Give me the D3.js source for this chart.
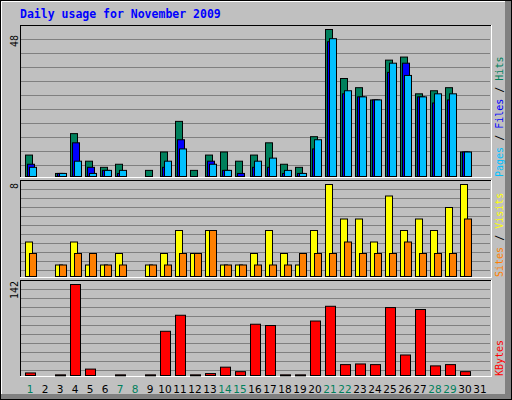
<!DOCTYPE html>
<html><head><meta charset="utf-8">
<script src="https://cdn.jsdelivr.net/npm/d3@7"></script>
<style>body{margin:0;background:#fff}svg{display:block}</style>
</head><body><svg width="512" height="400"></svg>
<script>
const days = d3.range(1,32);
const weekend = [1,7,8,14,15,21,22,28,29];
const hits  = [7,0,1,14,5,3,4,0,2,8,18,2,7,8,5,7,11,4,3,13,48,32,29,25,38,39,27,28,29,8,0];
const files = [4,0,1,11,3,2,1,0,0,3,12,0,5,2,1,3,3,1,1,9,44,27,26,25,34,37,26,24,25,8,0];
const pages = [3,0,1,5,1,2,2,0,0,5,9,0,4,2,0,5,6,2,1,12,45,28,26,25,37,33,26,27,27,8,0];
const visits= [3,0,1,3,1,1,2,0,1,2,4,2,4,1,1,2,4,2,1,4,8,5,5,3,7,4,5,4,6,8,0];
const sites = [2,0,1,2,2,1,1,0,1,1,2,2,4,1,1,1,1,1,2,2,2,3,2,2,2,3,2,2,2,5,0];
const kbytes= [4,0,1,142,10,0,1,0,1,69,94,1,3,13,6,80,78,1,1,85,108,17,18,17,106,32,103,15,17,6,0];
const maxHits=48, maxVisits=8, maxKB=142;

const svg=d3.select("svg");
svg.append("rect").attr("width",512).attr("height",400).attr("fill","#c0c0c0");
svg.append("rect").attr("x",0.5).attr("y",0.5).attr("width",511).attr("height",399).attr("fill","none").attr("stroke","#000");
svg.append("line").attr("x1",1.5).attr("y1",1.5).attr("x2",1.5).attr("y2",398).attr("stroke","#fff");
svg.append("line").attr("x1",1.5).attr("y1",1.5).attr("x2",505).attr("y2",1.5).attr("stroke","#fff");
svg.append("rect").attr("x",505).attr("y",1).attr("width",6).attr("height",398).attr("fill","#808080");
svg.append("rect").attr("x",1).attr("y",394).attr("width",510).attr("height",5).attr("fill","#808080");

svg.append("text").attr("x",20).attr("y",18).text("Daily usage for November 2009")
  .attr("font-family","DejaVu Sans Mono").attr("font-weight","bold").attr("font-size",11.5).attr("fill","#0000ff");

const x=d3.scaleBand().domain(days).range([25,490]).paddingInner(0).paddingOuter(0);
// each day slot 15px
function panel(top,bottom,gridStart,gridStep){
  const g=svg.append("g");
  g.append("rect").attr("x",20).attr("y",top).attr("width",471).attr("height",bottom-top).attr("fill","#c0c0c0");
  for(let y=gridStart;y<bottom-3;y+=gridStep)
    g.append("line").attr("x1",21).attr("x2",490).attr("y1",y+0.5).attr("y2",y+0.5).attr("stroke","#808080");
  g.append("line").attr("x1",20.5).attr("x2",20.5).attr("y1",top).attr("y2",bottom).attr("stroke","#000");
  g.append("line").attr("x1",20).attr("x2",491).attr("y1",top+0.5).attr("y2",top+0.5).attr("stroke","#000");
  g.append("line").attr("x1",491.5).attr("x2",491.5).attr("y1",top).attr("y2",bottom+1).attr("stroke","#fff");
  g.append("line").attr("x1",20).attr("x2",492).attr("y1",bottom+0.5).attr("y2",bottom+0.5).attr("stroke","#fff");
}
panel(25,177,39,14);
panel(180,277,189,9);
panel(280,376,289,9);

function bars(data,y,color,off,w,base){
  svg.append("g").selectAll("rect").data(data.map((v,i)=>({v,d:days[i]})).filter(o=>o.v>0)).join("rect")
   .attr("x",o=>x(o.d)+off+0.5).attr("y",o=>y(o.v)+0.5).attr("width",w).attr("height",o=>Math.max(1,base-y(o.v)))
   .attr("fill",color).attr("stroke","#000").attr("stroke-width",1);
}
const yH=d3.scaleLinear().domain([0,maxHits]).range([176,29]);
bars(hits,yH,"#00805c",0,7,176);
bars(files,yH,"#0000ff",2,7,176);
bars(pages,yH,"#00c0ff",4,7,176);
const yV=d3.scaleLinear().domain([0,maxVisits]).range([276,184]);
bars(visits,yV,"#ffff00",0,7,276);
bars(sites,yV,"#ff8000",4,7,276);
const yK=d3.scaleLinear().domain([0,maxKB]).range([375,284]);
bars(kbytes,yK,"#ff0000",0,10,375);

function vlabel(txt,x0,y0,col){
  svg.append("text").attr("transform",`translate(${x0},${y0}) rotate(-90)`).text(txt)
   .attr("font-family","DejaVu Sans Mono").attr("font-size",10).attr("fill",col);
}
vlabel(String(maxHits),18,47,"#000");
vlabel(String(maxVisits),18,189,"#000");
vlabel(String(maxKB),18,299,"#000");

function rlabel(parts,x0,y0){
  const t=svg.append("text").attr("transform",`translate(${x0},${y0}) rotate(-90)`)
   .attr("font-family","DejaVu Sans Mono").attr("font-size",10);
  parts.forEach(p=>t.append("tspan").text(p[0]).attr("fill",p[1]));
}
rlabel([["Pages","#00c0ff"],[" / ","#000"],["Files","#0000ff"],[" / ","#000"],["Hits","#00805c"]],503,177);
rlabel([["Sites","#ff8000"],[" / ","#000"],["Visits","#ffff00"]],503,277);
rlabel([["KBytes","#ff0000"]],503,376);

svg.append("g").selectAll("text").data(days).join("text")
 .attr("x",d=>x(d)+5).attr("y",393).attr("text-anchor","middle").text(d=>d)
 .attr("font-family","DejaVu Sans").attr("font-size",10.5)
 .attr("fill",d=>weekend.includes(d)?"#00805c":"#000");
</script></body></html>
